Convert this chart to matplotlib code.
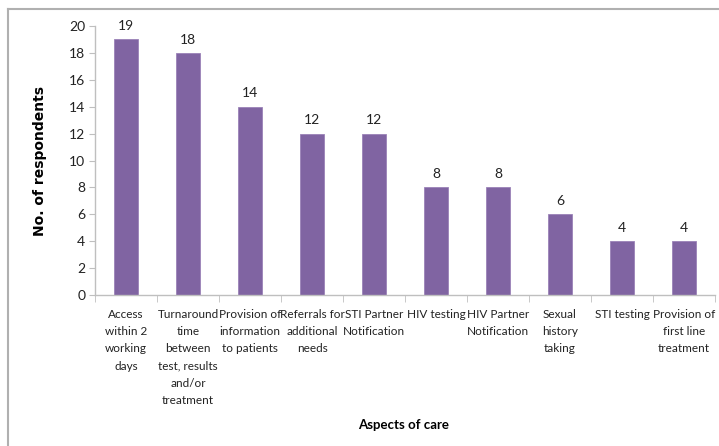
import numpy as np
import matplotlib
matplotlib.use("Agg")
import matplotlib.pyplot as plt
from matplotlib.lines import Line2D

plt.rcParams['font.family'] = ['Lato', 'DejaVu Sans']

categories = ["Access\nwithin 2\nworking\ndays",
              "Turnaround\ntime\nbetween\ntest, results\nand/or\ntreatment",
              "Provision of\ninformation\nto patients",
              "Referrals for\nadditional\nneeds",
              "STI Partner\nNotification",
              "HIV testing",
              "HIV Partner\nNotification",
              "Sexual\nhistory\ntaking",
              "STI testing",
              "Provision of\nfirst line\ntreatment"]
counts = [19, 18, 14, 12, 12, 8, 8, 6, 4, 4]
yticks = [0, 2, 4, 6, 8, 10, 12, 14, 16, 18, 20]

fig = plt.figure(figsize=(7.19, 4.46), dpi=100)
ax = fig.add_axes([95/719, 1-295/446, 620/719, 269/446])

x = np.arange(len(counts))
ax.bar(x, counts, width=0.39, color='#8064A2', edgecolor='#9a82b8', linewidth=0.6, zorder=2)
for xi, v in zip(x, counts):
    ax.text(xi, v + 0.55, str(v), ha='center', va='bottom', fontsize=10, color='#222222')

ax.set_xlim(-0.5, len(counts) - 0.5)
ax.set_ylim(0, 20)
ax.set_yticks(yticks)
ax.tick_params(axis='y', labelsize=10, length=4, color='#bfbfbf', labelcolor='#222222', pad=3)

ax.set_xticks(x)
ax.set_xticklabels(categories, fontsize=8.5, color='#222222', linespacing=1.7)
ax.tick_params(axis='x', which='major', length=0, pad=10)
ax.set_xticks(np.arange(-0.5, len(counts)), minor=True)
ax.tick_params(axis='x', which='minor', length=5, color='#bfbfbf')

for s in ['top', 'right']:
    ax.spines[s].set_visible(False)
for s in ['left', 'bottom']:
    ax.spines[s].set_color('#bfbfbf')
    ax.spines[s].set_linewidth(1)

ax.set_ylabel("No. of respondents", fontsize=10, fontweight='bold', family=['DejaVu Sans'], labelpad=16)
fig.text(404/719, 1-425/446, "Aspects of care", ha='center', va='center', fontsize=9.5, fontweight='bold')

# outer frame
fig.add_artist(Line2D([8/719, 8/719], [0, 1-9/446], color='#b0b0b0', linewidth=1.5, transform=fig.transFigure))
fig.add_artist(Line2D([8/719, 1], [1-9/446, 1-9/446], color='#b0b0b0', linewidth=1.5, transform=fig.transFigure))

fig.savefig("out.png", dpi=100)
